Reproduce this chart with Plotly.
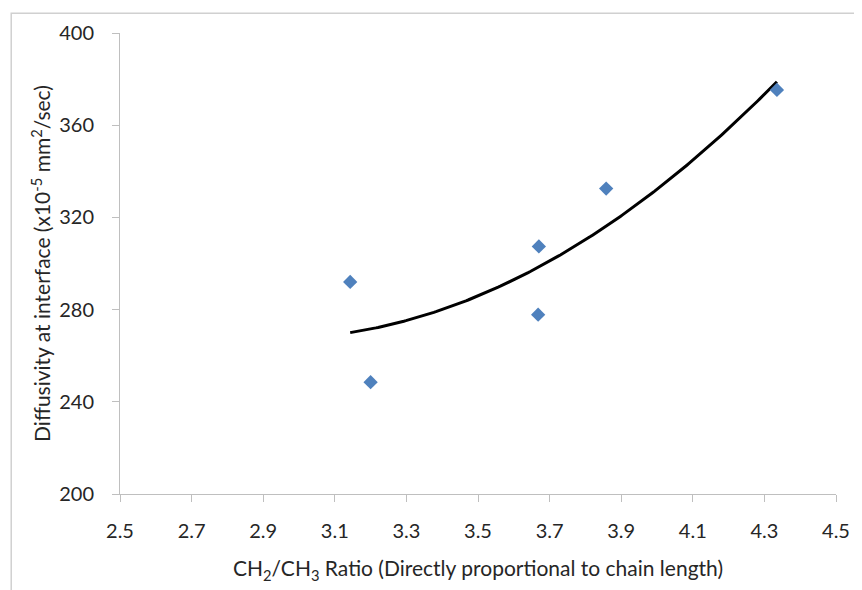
import numpy as np
import plotly.graph_objects as go

# Data
ratio = [3.143, 3.20, 3.670, 3.668, 3.858, 4.335]
diffusivity = [292.0, 248.5, 307.4, 277.8, 332.5, 375.3]

x_ticks = [2.5, 2.7, 2.9, 3.1, 3.3, 3.5, 3.7, 3.9, 4.1, 4.3, 4.5]
y_ticks = [200, 240, 280, 320, 360, 400]

# Excel-style 2nd order polynomial trendline fitted to the data
coef = np.polyfit(ratio, diffusivity, 2)
trend_x = np.linspace(min(ratio), max(ratio), 200)
trend_y = np.polyval(coef, trend_x)

OFF = 8  # page body margin
W, H = 862 - OFF, 590 - OFF
L, R, T, B = 120 - OFF, 18, 30 - OFF, 96
pw, ph = W - L - R, H - T - B

fig = go.Figure()
fig.add_trace(go.Scatter(
    x=trend_x, y=trend_y, mode="lines",
    line=dict(color="black", width=3), hoverinfo="skip", showlegend=False))
fig.add_trace(go.Scatter(
    x=ratio, y=diffusivity, mode="markers",
    marker=dict(symbol="diamond", size=11, color="#4f81bd"),
    showlegend=False))

font = "Lato, 'Open Sans', sans-serif"
fig.update_layout(
    width=W, height=H,
    margin=dict(l=L, r=R, t=T, b=B, pad=0),
    paper_bgcolor="white", plot_bgcolor="white",
    font=dict(family=font, size=20, color="#262626"),
    xaxis=dict(
        range=[2.5, 4.5], tickmode="array", tickvals=x_ticks,
        ticktext=[f"{v:.1f}" for v in x_ticks],
        showgrid=False, zeroline=False, showline=True, linecolor="#bfbfbf",
        linewidth=1, ticks="outside", ticklen=7, tickcolor="#bfbfbf",
        tickfont=dict(size=20), ticklabelstandoff=12, fixedrange=True,
        title=dict(text="CH<sub>2</sub>/CH<sub>3</sub> Ratio (Directly proportional to chain length)",
                   font=dict(size=21), standoff=20),
    ),
    yaxis=dict(
        range=[200, 400], tickmode="array", tickvals=y_ticks,
        showgrid=False, zeroline=False, showline=True, linecolor="#bfbfbf",
        linewidth=1, ticks="outside", ticklen=7, tickcolor="#bfbfbf",
        tickfont=dict(size=20), ticklabelstandoff=14, fixedrange=True,
        title=dict(text="Diffusivity at interface (x10<sup>-5</sup> mm<sup>2</sup>/sec)",
                   font=dict(size=21), standoff=2),
    ),
    shapes=[dict(
        type="rect", xref="paper", yref="paper",
        x0=(10 - OFF - L) / pw, x1=(W + 20 - L) / pw,
        y0=-(H + 20 - T - ph) / ph, y1=1 + (T - (10 - OFF)) / ph,
        line=dict(color="#d0d0d0", width=1.5), layer="below")],
)

fig.write_html("out.html")
